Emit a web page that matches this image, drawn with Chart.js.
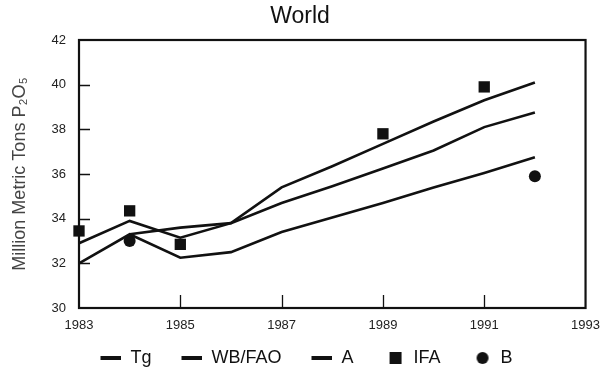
<!DOCTYPE html>
<html>
<head>
<meta charset="utf-8">
<script src="https://cdn.jsdelivr.net/npm/chart.js@4/dist/chart.umd.min.js"></script>
<style>
  html, body { margin: 0; padding: 0; background: #fff; }
  #wrap { width: 600px; height: 370px; }
</style>
</head>
<body>
<div id="wrap"><canvas id="graph1"></canvas></div>
<script>
    var years = [1983, 1984, 1985, 1986, 1987, 1988, 1989, 1990, 1991, 1992];
    var tgValues = [32.9, 33.9, 33.15, 33.8, 35.4, 36.35, 37.35, 38.35, 39.3, 40.1];
    var wbFaoValues = [null, 33.3, 33.6, 33.8, 34.7, 35.45, 36.25, 37.05, 38.1, 38.75];
    var aValues = [32.0, 33.3, 32.25, 32.5, 33.4, 34.05, 34.7, 35.4, 36.05, 36.75];

    var ifaYears = [1983, 1984, 1985, 1989, 1991];
    var ifaValues = [33.45, 34.35, 32.85, 37.8, 39.9];

    var bYears = [1984, 1992];
    var bValues = [33.0, 35.9];

    var xTicks = [1983, 1985, 1987, 1989, 1991, 1993];
    var yTicks = [30, 32, 34, 36, 38, 40, 42];

    var ink = '#111';

function toPoints(xs, ys) {
    var pts = [];
    for (var i = 0; i < xs.length; i++) {
        if (ys[i] !== null) pts.push({ x: xs[i], y: ys[i] });
    }
    return pts;
}

function lineSet(label, values) {
    return {
        type: 'line',
        label: label,
        data: toPoints(years, values),
        borderColor: ink,
        backgroundColor: ink,
        borderWidth: 2.6,
        pointRadius: 0,
        tension: 0,
        kind: 'line'
    };
}

// legend glyphs: blank on the left gives the gap between items
var ICON_W = 34;
function makeIcon(kind) {
    var c = document.createElement('canvas');
    c.width = ICON_W; c.height = 14;
    var g = c.getContext('2d');
    g.fillStyle = ink;
    var r = ICON_W;
    if (kind === 'line') {
        g.fillRect(r - 21, 5, 21, 4);
    } else if (kind === 'rect') {
        g.fillRect(r - 15, 1, 12, 12);
    } else {
        g.beginPath();
        g.arc(r - 9, 7, 6, 0, Math.PI * 2);
        g.fill();
    }
    return c;
}

// plot frame plus inward tick marks
var frameTicks = {
    id: 'frameTicks',
    afterDatasetsDraw: function(chart) {
        var ctx = chart.ctx, a = chart.chartArea;
        var xs = chart.scales.x, ys = chart.scales.y;
        ctx.save();
        ctx.strokeStyle = ink;
        ctx.lineWidth = 1.3;
        ctx.beginPath();
        xTicks.slice(1, -1).forEach(function(v) {
            var px = Math.round(xs.getPixelForValue(v)) + 0.5;
            ctx.moveTo(px, a.bottom);
            ctx.lineTo(px, a.bottom - 13);
        });
        yTicks.slice(1, -1).forEach(function(v) {
            var py = Math.round(ys.getPixelForValue(v)) + 0.5;
            ctx.moveTo(a.left, py);
            ctx.lineTo(a.left + 11, py);
        });
        ctx.stroke();
        ctx.lineWidth = 2.2;
        ctx.strokeRect(a.left, a.top, a.right - a.left, a.bottom - a.top);
        ctx.restore();
    }
};

window.onload = function() {
    var ctx = document.getElementById('graph1').getContext('2d');
    window.worldChart = new Chart(ctx, {
        type: 'line',
        data: {
            datasets: [
                lineSet('Tg', tgValues),
                lineSet('WB/FAO', wbFaoValues),
                lineSet('A', aValues),
                {
                    type: 'scatter',
                    label: 'IFA',
                    data: toPoints(ifaYears, ifaValues),
                    pointStyle: 'rect',
                    pointRadius: 8,
                    backgroundColor: ink,
                    borderColor: ink,
                    borderWidth: 0,
                    kind: 'rect'
                },
                {
                    type: 'scatter',
                    label: 'B',
                    data: toPoints(bYears, bValues),
                    pointStyle: 'circle',
                    pointRadius: 6,
                    backgroundColor: ink,
                    borderColor: ink,
                    borderWidth: 0,
                    kind: 'circle'
                }
            ]
        },
        plugins: [frameTicks],
        options: {
            responsive: true,
            maintainAspectRatio: false,
            animation: false,
            clip: false,
            layout: { padding: { left: 0, right: 0, top: 0, bottom: 0 } },
            scales: {
                x: {
                    type: 'linear',
                    min: 1983,
                    max: 1993,
                    afterBuildTicks: function(scale) {
                        scale.ticks = xTicks.map(function(v) { return { value: v }; });
                    },
                    afterFit: function(scale) { scale.height = 24; },
                    // tick marks are drawn by frameTicks; tickLength only offsets the labels
                    grid: { display: false, drawTicks: true, tickLength: 10 },
                    border: { display: false },
                    ticks: {
                        padding: 0,
                        autoSkip: false,
                        maxRotation: 0,
                        color: '#222',
                        font: { family: 'Liberation Sans', size: 13 },
                        callback: function(v) { return String(v); }
                    }
                },
                y: {
                    min: 30,
                    max: 42,
                    afterBuildTicks: function(scale) {
                        scale.ticks = yTicks.map(function(v) { return { value: v }; });
                    },
                    afterFit: function(scale) { scale.width = 79; },
                    grid: { display: false, drawTicks: false },
                    border: { display: false },
                    ticks: {
                        padding: 13,
                        color: '#222',
                        font: { family: 'Liberation Sans', size: 13 }
                    },
                    title: {
                        display: true,
                        text: 'Million Metric Tons P\u2082O\u2085',
                        color: '#444',
                        font: { family: 'Liberation Sans', size: 18 },
                        padding: { top: 9, bottom: 0 }
                    }
                }
            },
            plugins: {
                title: {
                    display: true,
                    text: 'World',
                    color: ink,
                    font: { family: 'Liberation Sans', size: 23, weight: 'normal' },
                    padding: { top: 3, bottom: 9.4 }
                },
                legend: {
                    position: 'bottom',
                    maxHeight: 38,
                    labels: {
                        usePointStyle: true,
                        pointStyleWidth: ICON_W,
                        padding: 17,
                        color: ink,
                        font: { family: 'Liberation Sans', size: 18 },
                        generateLabels: function(chart) {
                            return chart.data.datasets.map(function(ds, i) {
                                return {
                                    text: ds.label,
                                    pointStyle: makeIcon(ds.kind),
                                    fillStyle: ink,
                                    strokeStyle: ink,
                                    lineWidth: 0,
                                    fontColor: ink,
                                    datasetIndex: i
                                };
                            });
                        }
                    }
                },
                tooltip: { enabled: false }
            }
        }
    });
};
</script>
</body>
</html>
